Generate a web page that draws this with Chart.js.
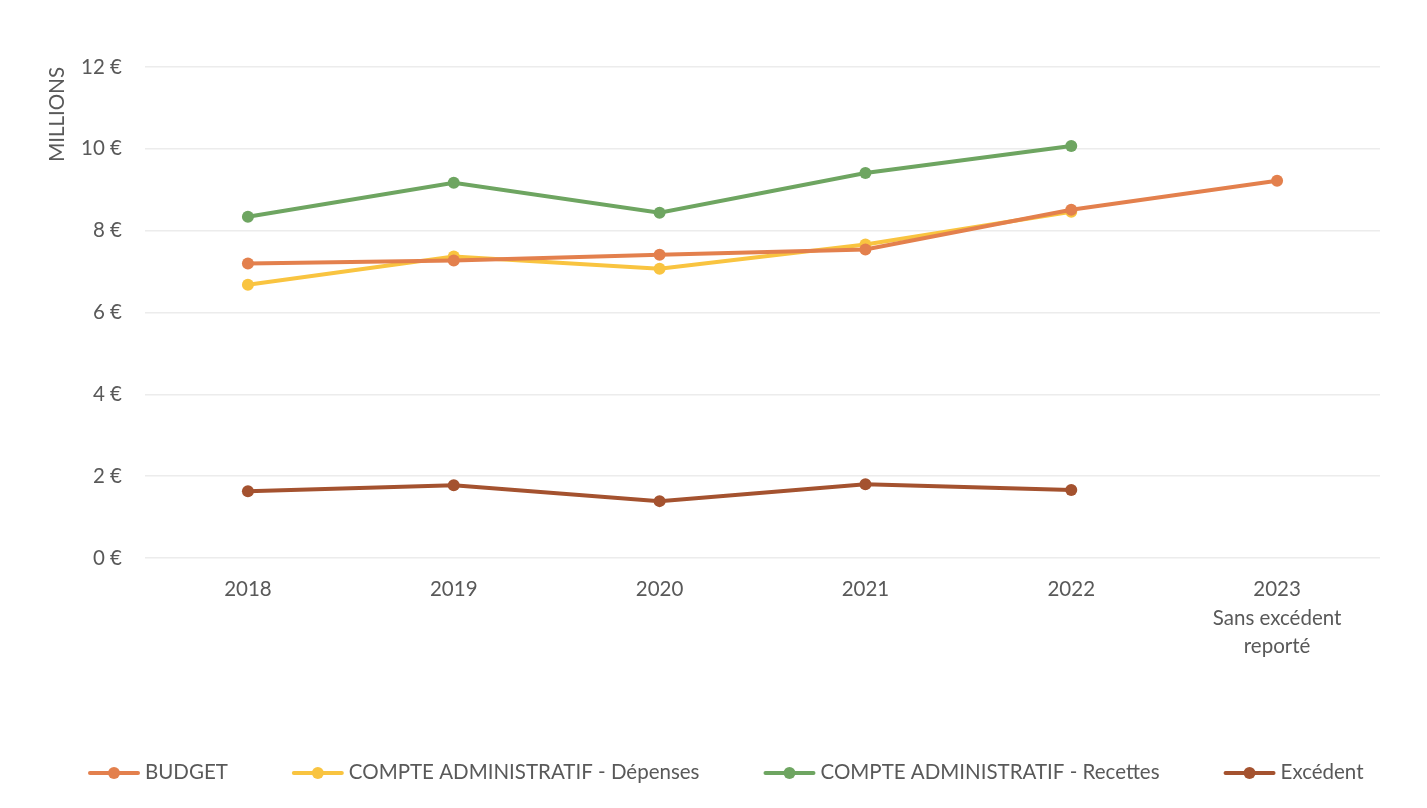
<!DOCTYPE html>
<html lang="fr">
<head>
<meta charset="utf-8">
<title>Budget et compte administratif 2018-2023</title>
<script src="https://cdn.jsdelivr.net/npm/chart.js@4.4.1/dist/chart.umd.min.js"></script>
<style>
  html, body { margin: 0; padding: 0; background: #fff; }
  #wrap { width: 1427px; height: 808px; }
</style>
</head>
<body>
<div id="wrap"><canvas id="budgetChart" width="1427" height="808"></canvas></div>
<script>
// Années (la dernière colonne porte une note sur deux lignes)
const years = ['2018', '2019', '2020', '2021', '2022', ['2023', 'Sans excédent', 'reporté']];

// Montants en millions d'euros
const budget   = [7.20, 7.27, 7.41, 7.54, 8.51, 9.22];
const depenses = [6.68, 7.37, 7.07, 7.66, 8.46, null];
const recettes = [8.34, 9.17, 8.44, 9.41, 10.07, null];
const excedent = [1.63, 1.78, 1.39, 1.80, 1.66, null];

const yTicks = [0, 2, 4, 6, 8, 10, 12];

const FONT = 'Lato, "Open Sans", sans-serif';
const TEXT = '#595959';

function series(label, data, color) {
    return {
        label: label,
        data: data,
        borderColor: color,
        backgroundColor: color,
        borderWidth: 4,
        pointRadius: 6,
        pointHoverRadius: 6.5,
        pointBackgroundColor: color,
        pointBorderWidth: 0,
        tension: 0
    };
}

// Légende en une ligne : trait + pastille, puis le libellé
const lineLegend = {
    id: 'lineLegend',
    afterDraw(chart, args, opts) {
        const c = chart.ctx;
        c.save();
        c.font = opts.size + 'px ' + FONT;
        c.textBaseline = 'middle';
        let x = opts.x;
        const y = opts.y;
        chart.data.datasets.forEach(ds => {
            c.strokeStyle = ds.borderColor;
            c.fillStyle = ds.borderColor;
            c.lineWidth = 4;
            c.lineCap = 'round';
            c.beginPath();
            c.moveTo(x + 2, y + 1);
            c.lineTo(x + 50, y + 1);
            c.stroke();
            c.beginPath();
            c.arc(x + 26, y + 1, 6, 0, Math.PI * 2);
            c.fill();
            c.fillStyle = TEXT;
            c.fillText(ds.label, x + 57, y);
            x += 57 + c.measureText(ds.label).width + opts.gap;
        });
        c.restore();
    }
};

const ctx = document.getElementById('budgetChart').getContext('2d');
new Chart(ctx, {
    type: 'line',
    data: {
        labels: years,
        datasets: [
            series('BUDGET', budget, '#E3804D'),
            series('COMPTE ADMINISTRATIF - Dépenses', depenses, '#F9C440'),
            series('COMPTE ADMINISTRATIF - Recettes', recettes, '#6EA561'),
            series('Excédent', excedent, '#A4522F')
        ]
    },
    plugins: [lineLegend],
    options: {
        responsive: false,
        animation: false,
        layout: {
            padding: { top: 67, right: 47, left: 0, bottom: 109 }
        },
        plugins: {
            legend: { display: false },
            lineLegend: { x: 88, y: 772, gap: 64, size: 20.5 },
            tooltip: { enabled: true }
        },
        scales: {
            x: {
                offset: true,
                grid: { display: false },
                border: { display: false },
                ticks: {
                    color: TEXT,
                    padding: 9,
                    font: { family: FONT, size: 20.5, lineHeight: 1.4 }
                },
                afterFit(scale) {
                    scale.height = 141;
                }
            },
            y: {
                min: 0,
                max: 12,
                afterBuildTicks(scale) {
                    scale.ticks = yTicks.map(v => ({ value: v }));
                },
                afterFit(scale) {
                    scale.width = 145;
                },
                grid: { color: '#ECECEC', lineWidth: 1.5, drawTicks: false },
                border: { display: false },
                ticks: {
                    color: TEXT,
                    padding: 23,
                    font: { family: FONT, size: 20.5 },
                    callback: v => v + ' €'
                },
                title: {
                    display: true,
                    text: 'MILLIONS',
                    align: 'end',
                    color: TEXT,
                    padding: { top: 45 },
                    font: { family: FONT, size: 20.5 }
                }
            }
        }
    }
});
</script>
</body>
</html>
